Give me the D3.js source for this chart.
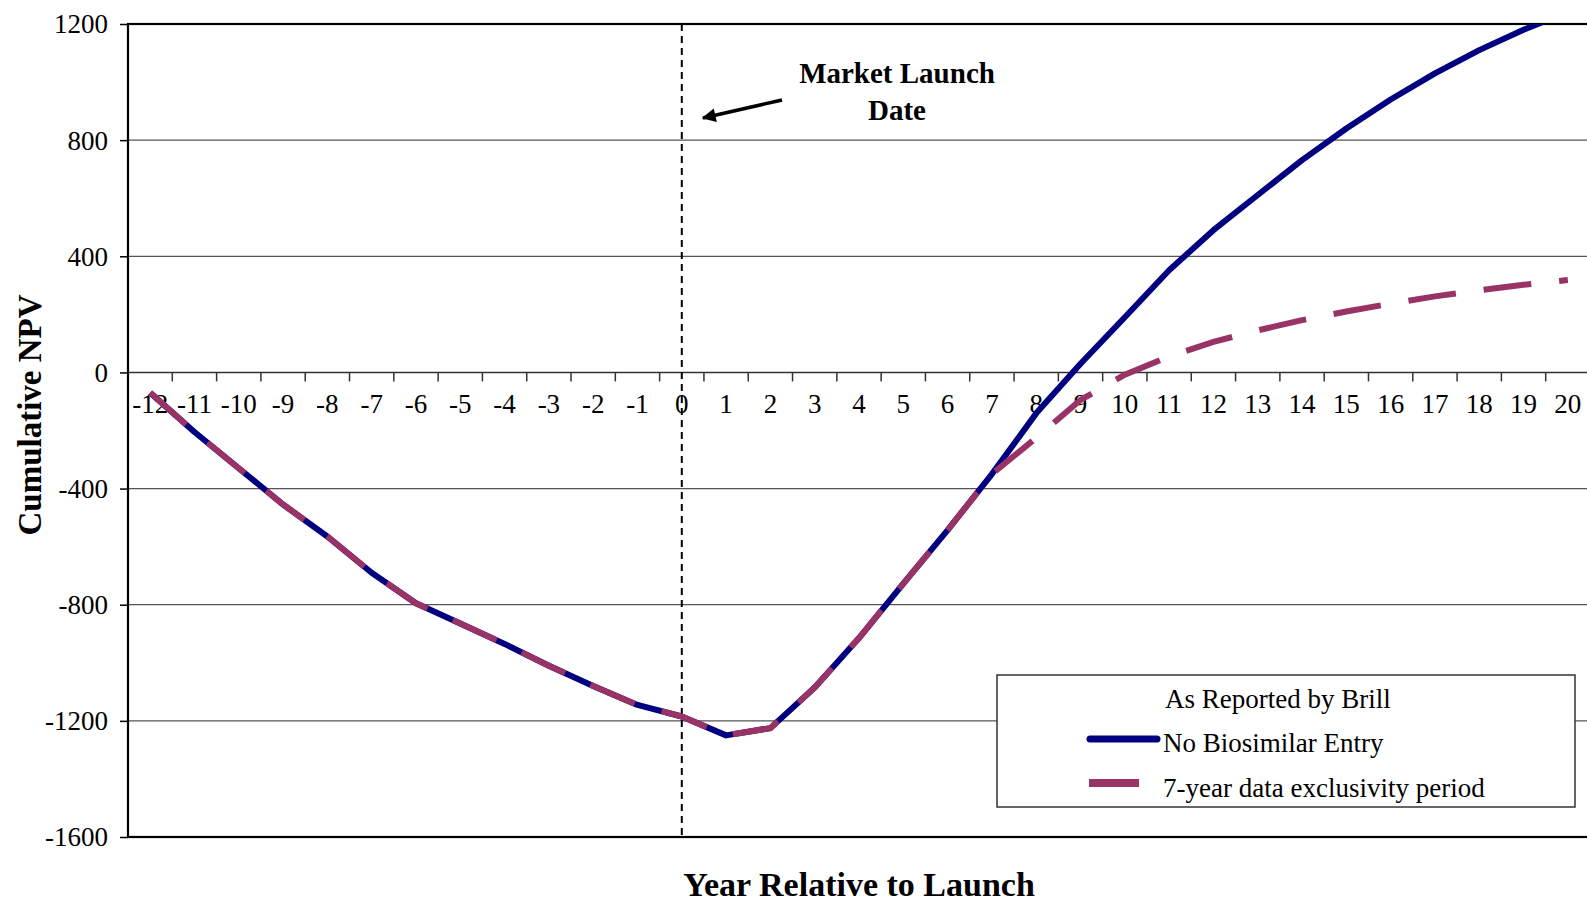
<!DOCTYPE html>
<html>
<head>
<meta charset="utf-8">
<script src="https://cdn.jsdelivr.net/npm/d3@7"></script>
<style>
  html, body { margin: 0; padding: 0; background: #fff; overflow: hidden; }
  text { font-family: "Liberation Serif", "Times New Roman", serif; fill: #000; }
</style>
</head>
<body>
<div id="root"></div>
<script>
// chart data
const years = d3.range(-12, 21);
const noBiosimilar = [-70, -205, -330, -455, -565, -690, -795, -865, -935, -1010, -1080, -1145,
    -1185, -1250, -1225, -1085, -915, -727, -543, -350, -141, 30, 190, 352, 490, 611, 731, 840,
    940, 1030, 1110, 1180, 1242];
const exclusivity7 = [-70, -205, -330, -455, -565, -690, -795, -865, -935, -1010, -1080, -1145,
    -1185, -1250, -1225, -1085, -915, -727, -543, -350, -225, -95, -8, 55, 105, 145, 180, 210,
    237, 262, 283, 302, 318];
const yTicks = [1200, 800, 400, 0, -400, -800, -1200, -1600];
const seriesNames = ["No Biosimilar Entry", "7-year data exclusivity period"];
const legendTitle = "As Reported by Brill";

const w = 1587;
const h = 905;
const plotLeft = 128;
const plotRight = 1590;
const plotTop = 24;
const plotBottom = 837;

const blue = "#000080";
const plum = "#993366";

const svg = d3.select("#root")
    .append("svg")
    .attr("width", w)
    .attr("height", h);

const xScale = d3.scaleBand()
    .domain(years)
    .range([plotLeft, plotRight])
    .padding(0);
const bw = xScale.bandwidth();
const cx = d => xScale(d) + bw / 2;

const yScale = d3.scaleLinear()
    .domain([-1600, 1200])
    .range([plotBottom, plotTop]);

svg.append("defs").append("clipPath")
    .attr("id", "plot-clip")
    .append("rect")
    .attr("x", plotLeft)
    .attr("y", plotTop)
    .attr("width", plotRight - plotLeft)
    .attr("height", plotBottom - plotTop);

// gridlines
svg.append("g")
    .selectAll("line")
    .data(yTicks.filter(d => d !== 1200 && d !== -1600 && d !== 0))
    .enter()
    .append("line")
    .attr("x1", plotLeft)
    .attr("x2", plotRight)
    .attr("y1", d => yScale(d))
    .attr("y2", d => yScale(d))
    .attr("stroke", "#555")
    .attr("stroke-width", 1.3);

// y-axis
const yAxis = d3.axisLeft(yScale)
    .tickValues(yTicks)
    .tickSize(8)
    .tickPadding(12)
    .tickFormat(d => d);
const yG = svg.append("g")
    .attr("transform", "translate(" + plotLeft + ", 0)")
    .call(yAxis);
yG.select(".domain").remove();
yG.selectAll(".tick line").attr("stroke", "#000").attr("stroke-width", 1.5);
yG.selectAll(".tick text")
    .style("font-size", "27px")
    .attr("font-family", null)
    .attr("dy", "0.33em");

// x-axis along zero, ticks on band boundaries
const yZero = yScale(0);
svg.append("line")
    .attr("x1", plotLeft)
    .attr("x2", plotRight)
    .attr("y1", yZero)
    .attr("y2", yZero)
    .attr("stroke", "#333")
    .attr("stroke-width", 1.6);
svg.append("g")
    .selectAll("line")
    .data(years.slice(1))
    .enter()
    .append("line")
    .attr("x1", d => xScale(d))
    .attr("x2", d => xScale(d))
    .attr("y1", yZero)
    .attr("y2", yZero + 9)
    .attr("stroke", "#333")
    .attr("stroke-width", 1.5);
svg.append("g")
    .selectAll("text")
    .data(years)
    .enter()
    .append("text")
    .attr("x", d => cx(d))
    .attr("y", yZero + 41)
    .attr("text-anchor", "middle")
    .style("font-size", "27px")
    .text(d => d);

// plot frame
svg.append("rect")
    .attr("x", plotLeft)
    .attr("y", plotTop)
    .attr("width", plotRight - plotLeft)
    .attr("height", plotBottom - plotTop)
    .attr("fill", "none")
    .attr("stroke", "#000")
    .attr("stroke-width", 2.2);

// launch date marker
svg.append("line")
    .attr("x1", cx(0))
    .attr("x2", cx(0))
    .attr("y1", plotTop)
    .attr("y2", plotBottom)
    .attr("stroke", "#000")
    .attr("stroke-width", 2)
    .attr("stroke-dasharray", "7,5");

// series
const line = d3.line()
    .x((d, i) => cx(years[i]))
    .y(d => yScale(d));

const lines = svg.append("g").attr("clip-path", "url(#plot-clip)");
lines.append("path")
    .datum(noBiosimilar)
    .attr("d", line)
    .attr("fill", "none")
    .attr("stroke", blue)
    .attr("stroke-width", 6)
    .attr("stroke-linejoin", "round");
lines.append("path")
    .datum(exclusivity7)
    .attr("d", line)
    .attr("fill", "none")
    .attr("stroke", plum)
    .attr("stroke-width", 6)
    .attr("stroke-dasharray", "48,28");

// annotation
svg.append("defs").append("marker")
    .attr("id", "arrow")
    .attr("viewBox", "0 0 10 10")
    .attr("refX", 9)
    .attr("refY", 5)
    .attr("markerWidth", 4.5)
    .attr("markerHeight", 4)
    .attr("markerUnits", "strokeWidth")
    .attr("orient", "auto")
    .append("path")
    .attr("d", "M0,0 L10,5 L0,10 z")
    .attr("fill", "#000");
svg.append("line")
    .attr("x1", 782)
    .attr("y1", 100)
    .attr("x2", 703)
    .attr("y2", 118)
    .attr("stroke", "#000")
    .attr("stroke-width", 3.5)
    .attr("marker-end", "url(#arrow)");
svg.append("text")
    .attr("x", 897)
    .attr("y", 83)
    .attr("text-anchor", "middle")
    .style("font-size", "29px")
    .style("font-weight", "bold")
    .text("Market Launch");
svg.append("text")
    .attr("x", 897)
    .attr("y", 120)
    .attr("text-anchor", "middle")
    .style("font-size", "29px")
    .style("font-weight", "bold")
    .text("Date");

// axis titles
svg.append("text")
    .attr("x", 859)
    .attr("y", 896)
    .attr("text-anchor", "middle")
    .style("font-size", "34px")
    .style("font-weight", "bold")
    .text("Year Relative to Launch");
svg.append("text")
    .attr("transform", "translate(41, 415) rotate(-90)")
    .attr("text-anchor", "middle")
    .style("font-size", "33px")
    .style("font-weight", "bold")
    .text("Cumulative NPV");

// legend
const legend = svg.append("g");
legend.append("rect")
    .attr("x", 997)
    .attr("y", 675)
    .attr("width", 578)
    .attr("height", 132)
    .attr("fill", "#fff")
    .attr("stroke", "#333")
    .attr("stroke-width", 1.5);
legend.append("text")
    .attr("x", 1165)
    .attr("y", 708)
    .style("font-size", "27px")
    .text(legendTitle);
legend.append("line")
    .attr("x1", 1090)
    .attr("x2", 1157)
    .attr("y1", 739)
    .attr("y2", 739)
    .attr("stroke", blue)
    .attr("stroke-width", 7)
    .attr("stroke-linecap", "round");
legend.append("line")
    .attr("x1", 1089)
    .attr("x2", 1139)
    .attr("y1", 783)
    .attr("y2", 783)
    .attr("stroke", plum)
    .attr("stroke-width", 8);
legend.append("text")
    .attr("x", 1163)
    .attr("y", 752)
    .style("font-size", "27px")
    .text(seriesNames[0]);
legend.append("text")
    .attr("x", 1163)
    .attr("y", 797)
    .style("font-size", "27px")
    .text(seriesNames[1]);
</script>
</body>
</html>
